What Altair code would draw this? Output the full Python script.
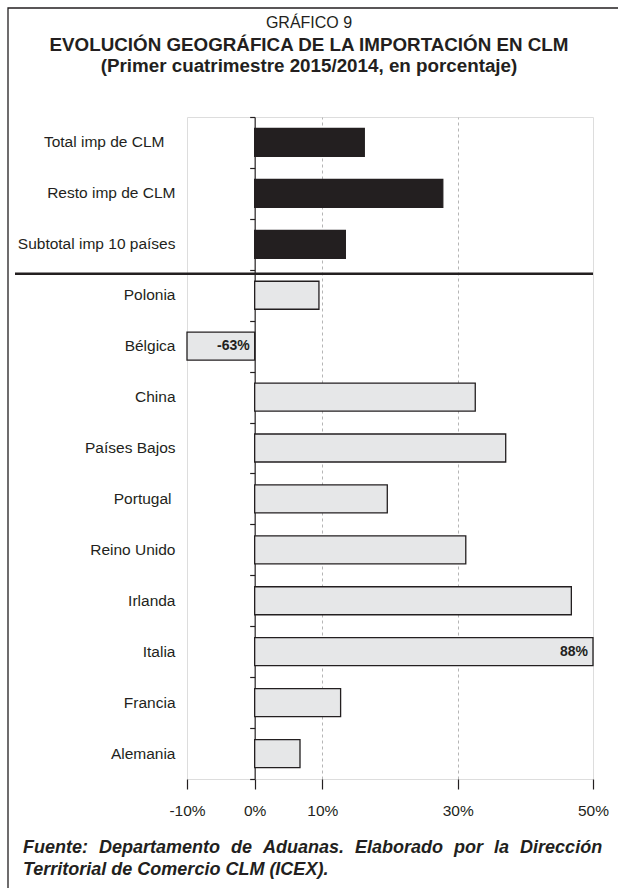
import altair as alt
import pandas as pd

# ---------------- data ----------------
categories = ["Total imp de CLM", "Resto imp de CLM", "Subtotal imp 10 países",
              "Polonia", "Bélgica", "China", "Países Bajos", "Portugal",
              "Reino Unido", "Irlanda", "Italia", "Francia", "Alemania"]
values = [16.2, 27.8, 13.4, 9.5, -63, 32.6, 37.1, 19.6, 31.2, 46.8, 88, 12.7, 6.7]
groups = ["total", "total", "total", "pais", "pais", "pais", "pais", "pais",
          "pais", "pais", "pais", "pais", "pais"]
x_ticks = [-10, 0, 10, 30, 50]
x_domain = [-10, 50]
header_lines = ["GRÁFICO 9",
                "EVOLUCIÓN GEOGRÁFICA DE LA IMPORTACIÓN EN CLM",
                "(Primer cuatrimestre 2015/2014, en porcentaje)"]
footer_lines = ["Fuente: Departamento de Aduanas. Elaborado por la Dirección",
                "Territorial de Comercio CLM (ICEX)."]

# ---------------- layout ----------------
W, H = 406, 662
PL, PT, PR, PB = 187, 117, 25, 109
FONT = "Liberation Sans"
DARK = "#231f20"
LIGHT = "#e6e7e8"

df = pd.DataFrame({"cat": categories, "v": values, "g": groups})

y_scale = alt.Scale(domain=categories, paddingInner=0, paddingOuter=0)
x_scale = alt.Scale(domain=x_domain, clamp=True, nice=False)

# the original labels carry trailing blanks for these two entries
label_pad = {
    "condition": [
        {"test": "datum.value == 'Total imp de CLM'", "value": 23},
        {"test": "datum.value == 'Portugal'", "value": 16},
    ],
    "value": 12,
}
label_axis = alt.Axis(orient="left", title=None, ticks=False, domain=False,
                      labelPadding=label_pad, labelFont=FONT, labelFontSize=15.5,
                      labelColor=DARK, labelLimit=400, grid=False)
tick_axis = alt.Axis(orient="left", title=None, labels=False, ticks=True,
                     tickSize=5, tickBand="extent", tickColor=DARK, tickWidth=1.2,
                     domain=True, domainColor=DARK, domainWidth=1.2,
                     offset=-W * (0 - x_domain[0]) / (x_domain[1] - x_domain[0]),
                     grid=False)
inner = f"datum.value > {x_domain[0]} && datum.value < {x_domain[1]} && datum.value != 0"
x_axis = alt.Axis(orient="bottom", title=None, values=x_ticks,
                  labelExpr="datum.value + '%'", labelFlush=False, tickSize=10,
                  tickColor=DARK, tickWidth=1.2, domain=False, grid=True,
                  gridDash=[3, 3], gridColor="#b5b5b5", gridWidth=1,
                  gridOpacity=alt.condition(inner, alt.value(1), alt.value(0)),
                  labelFont=FONT, labelFontSize=15.5, labelColor=DARK, labelPadding=14)

frame = alt.Chart(pd.DataFrame({"k": [0]})).mark_rect(
    fillOpacity=0, stroke=DARK, strokeWidth=1.3
).encode(x=alt.value(8 - PL), x2=alt.value(700), y=alt.value(8 - PT), y2=alt.value(1000))

bars = alt.Chart(df).mark_bar(size=28, stroke=DARK, strokeWidth=1.3).encode(
    y=alt.Y("cat:N", scale=y_scale, axis=label_axis, sort=categories),
    x=alt.X("v:Q", scale=x_scale, axis=x_axis),
    x2=alt.datum(0),
    color=alt.Color("g:N", scale=alt.Scale(domain=["total", "pais"], range=[DARK, LIGHT]),
                    legend=None),
)

labels = alt.Chart(df).transform_calculate(
    lab="(datum.v < -10 || datum.v > 50) ? datum.v + '%' : ''",
    lx="datum.v > 50 ? 50 : 0",
).mark_text(align="right", baseline="middle", dx=-5, font=FONT, fontWeight="bold",
            fontSize=14, color=DARK).encode(
    y=alt.Y("cat:N", scale=y_scale, axis=tick_axis, sort=categories),
    x=alt.X("lx:Q", scale=x_scale, axis=x_axis),
    text="lab:N",
)

sep_cat = categories[groups.index("pais")]
sep = alt.Chart(pd.DataFrame({"cat": [sep_cat]})).mark_rule(
    color=DARK, strokeWidth=2.5, yOffset=4
).encode(
    y=alt.Y("cat:N", scale=y_scale, bandPosition=0, sort=categories, axis=None),
    x=alt.value(15 - PL), x2=alt.value(W),
)


def text_layer(txt, x, y, size, weight="normal", style="normal", align="center"):
    return alt.Chart(pd.DataFrame({"t": [txt]})).mark_text(
        font=FONT, fontSize=size, fontWeight=weight, fontStyle=style,
        align=align, baseline="alphabetic", color=DARK
    ).encode(text="t:N", x=alt.value(x), y=alt.value(y))


# justified first footer line: widen the word gaps
footer_justified = footer_lines[0].replace(" ", " \u2004")

cx = 309 - PL
texts = [
    text_layer(header_lines[0], cx, 28 - PT, 16),
    text_layer(header_lines[1], cx, 51 - PT, 18.8, "bold"),
    text_layer(header_lines[2], cx, 72 - PT, 18.8, "bold"),
    text_layer(footer_justified, 23 - PL, 853 - PT, 18, "bold", "italic", "left"),
    text_layer(footer_lines[1], 23 - PL, 875 - PT, 18, "bold", "italic", "left"),
]

chart = alt.layer(frame, bars, labels, sep, *texts).resolve_axis(y="independent").properties(
    width=W, height=H,
    autosize=alt.AutoSizeParams(type="none"),
    padding={"left": PL, "top": PT, "right": PR, "bottom": PB},
).configure_view(stroke=DARK, strokeWidth=1.2).configure(background="white")

chart.save("out.html", embed_options={"renderer": "svg", "actions": False})
